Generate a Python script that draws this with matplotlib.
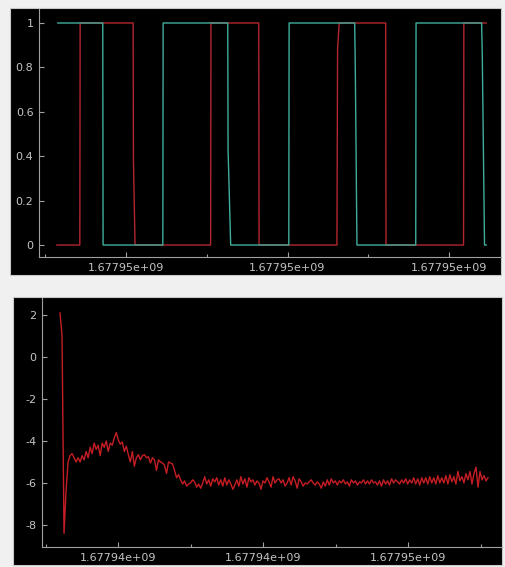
import numpy as np
import matplotlib
matplotlib.use("Agg")
import matplotlib.pyplot as plt
from matplotlib.patches import Rectangle
from matplotlib.ticker import FixedLocator, FixedFormatter

# top plot: two digital signals, time in seconds after T0
T0 = 1677951500.0
red_t = [-2.14, -1.43, -1.42, 0.22, 0.23, 0.28, 2.62, 2.63, 4.11, 4.12,
         6.53, 6.55, 6.60, 8.04, 8.05, 10.45, 10.46, 11.15]
red_v = [0, 0, 1, 1, 0.38, 0, 0, 1, 1, 0,
         0, 0.88, 1, 1, 0, 0, 1, 1]
teal_t = [-2.11, -0.72, -0.71, 1.14, 1.15, 3.15, 3.16, 3.24, 5.04, 5.05,
          7.08, 7.10, 7.15, 8.97, 8.98, 11.01, 11.03, 11.10, 11.15]
teal_v = [1, 1, 0, 0, 1, 1, 0.43, 0, 0, 1,
          1, 0.78, 0, 0, 1, 1, 0.86, 0, 0]
top_xticks = [0, 5, 10]
top_xlabels = ["1.67795e+09", "1.67795e+09", "1.67795e+09"]
top_yticks = [0, 0.2, 0.4, 0.6, 0.8, 1]
top_ylabels = ["0", "0.2", "0.4", "0.6", "0.8", "1"]

# bottom plot: one noisy series
bot_start = 1677938000.0
bot_end = 1677952760.0
bot_values = [
    2.1, 1.0, -8.4, -6.4, -5.0, -4.7, -4.6, -4.8, -5.0, -4.8,
    -5.0, -4.7, -4.9, -4.5, -4.8, -4.3, -4.6, -4.1, -4.4, -4.2,
    -4.7, -4.1, -4.3, -4.0, -4.5, -4.1, -4.2, -3.85, -3.6, -3.95,
    -4.15, -4.05, -4.5, -4.25, -4.65, -5.0, -4.5, -5.2, -4.8, -4.65,
    -4.9, -4.7, -4.65, -4.8, -4.75, -5.05, -4.8, -4.9, -5.4, -4.9,
    -5.0, -5.05, -5.15, -5.55, -5.0, -5.05, -5.1, -5.4, -5.75, -5.6,
    -5.85, -6.05, -5.9, -6.15, -6.05, -6.0, -5.85, -5.95, -6.2, -6.05,
    -6.25, -6.0, -5.7, -6.05, -5.85, -6.15, -5.8, -5.95, -5.75, -6.1,
    -5.85, -6.15, -5.75, -6.1, -5.85, -6.05, -6.3, -6.1, -5.85, -6.15,
    -5.7, -6.05, -5.8, -6.2, -5.75, -5.95, -5.85, -6.1, -5.9, -6.0,
    -6.3, -5.9, -6.0, -5.75, -5.95, -6.2, -5.7, -6.0, -5.85, -5.8,
    -6.0, -5.85, -6.15, -6.0, -5.75, -6.1, -5.7, -5.9, -6.25, -5.8,
    -5.95, -6.15, -6.0, -6.05, -5.95, -5.85, -6.0, -6.1, -5.95, -6.05,
    -6.25, -5.95, -6.15, -5.85, -6.1, -5.8, -6.0, -5.9, -6.1, -5.9,
    -6.0, -5.85, -6.05, -5.95, -6.15, -5.85, -6.0, -5.9, -6.1, -5.95,
    -6.0, -5.85, -6.05, -5.9, -6.05, -5.85, -6.0, -5.95, -6.1, -5.9,
    -6.15, -5.85, -6.05, -5.9, -6.1, -5.8, -6.0, -5.85, -5.95, -6.05,
    -5.85, -6.0, -5.8, -6.05, -5.85, -6.0, -5.75, -6.05, -5.8, -6.1,
    -5.75, -6.0, -5.75, -6.05, -5.7, -6.0, -5.75, -6.05, -5.65, -6.0,
    -5.75, -6.0, -5.65, -6.05, -5.6, -5.95, -5.7, -6.05, -5.45, -5.9,
    -5.7, -6.0, -5.55, -5.85, -5.45, -6.05, -5.55, -5.25, -6.2, -5.45,
    -5.85, -5.65, -5.9, -5.75,
]
bot_xticks = [1677940000, 1677945000, 1677950000]
bot_xlabels = ["1.67794e+09", "1.67794e+09", "1.67795e+09"]
bot_yticks = [-8, -6, -4, -2, 0, 2]
bot_ylabels = ["-8", "-6", "-4", "-2", "0", "2"]

W, H = 505, 567
fig = plt.figure(figsize=(W / 100, H / 100), dpi=100, facecolor="#f0f0f0")


def px_rect(l, t, r, b):
    return [l / W, 1 - b / H, (r - l) / W, (b - t) / H]


def black_panel(l, t, r, b):
    x, y, w, h = px_rect(l, t, r, b)
    fig.patches.append(Rectangle((x, y), w, h, transform=fig.transFigure,
                                 facecolor="black", edgecolor="#c8c8c8",
                                 linewidth=0.8, zorder=-10))


def style_axes(ax, xticks, xlabels, xminor, yticks, ylabels):
    ax.set_facecolor("black")
    ax.patch.set_alpha(0)
    for s in ("top", "right"):
        ax.spines[s].set_visible(False)
    for s in ("left", "bottom"):
        ax.spines[s].set_color("#a0a0a0")
        ax.spines[s].set_linewidth(0.8)
    ax.xaxis.set_major_locator(FixedLocator(xticks))
    ax.xaxis.set_major_formatter(FixedFormatter(xlabels))
    ax.xaxis.set_minor_locator(FixedLocator(xminor))
    ax.set_yticks(yticks, ylabels)
    ax.tick_params(which="major", direction="in", length=3.5, width=0.8,
                   color="#a0a0a0", labelcolor="#c4c4c4", labelsize=8, pad=4)
    ax.tick_params(which="minor", direction="in", length=2, width=0.8,
                   color="#a0a0a0")


black_panel(10, 8, 501, 275)
black_panel(13, 297, 502, 565)

ax1 = fig.add_axes(px_rect(39, 9, 501, 257))
ax1.plot(np.array(red_t) + T0, red_v, color="#b3262e", lw=1.0)
ax1.plot(np.array(teal_t) + T0, teal_v, color="#3fae9c", lw=1.0)
ax1.set_xlim(T0 - 2.694, T0 + 11.61)
ax1.set_ylim(-0.054, 1.063)
style_axes(ax1, [T0 + v for v in top_xticks], top_xlabels,
           [T0 - 2.5, T0 + 2.5, T0 + 7.5], top_yticks, top_ylabels)

ax2 = fig.add_axes(px_rect(42, 298, 502, 547))
bot_t = np.linspace(bot_start, bot_end, len(bot_values))
ax2.plot(bot_t, bot_values, color="#c41e24", lw=1.0)
ax2.set_xlim(1677937379, 1677953241)
ax2.set_ylim(-9.05, 2.81)
style_axes(ax2, bot_xticks, bot_xlabels,
           [1677937500, 1677942500, 1677947500, 1677952500],
           bot_yticks, bot_ylabels)

fig.savefig("out.png", dpi=100, facecolor=fig.get_facecolor())
